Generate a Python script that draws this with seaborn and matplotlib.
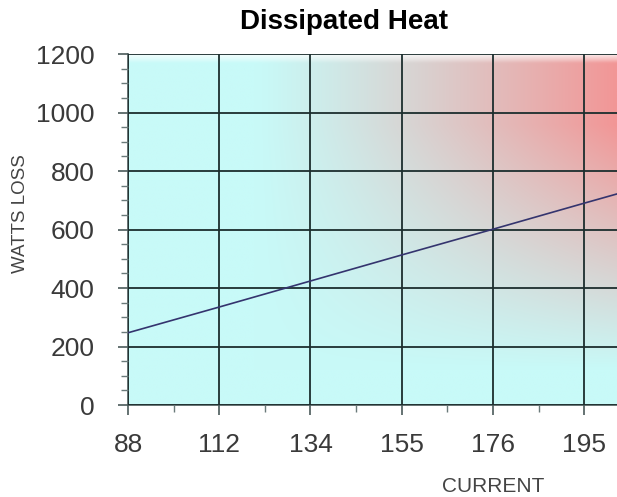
import numpy as np
import pandas as pd
import seaborn as sns
import matplotlib.pyplot as plt

# data
currents = ["88", "112", "134", "155", "176", "195", "214"]
watts_loss = [247, 335, 424, 513, 601, 690, 778]

df = pd.DataFrame({"current": currents, "watts": watts_loss})
df["pos"] = np.arange(len(df))

sns.set_style("white")
plt.rcParams["font.family"] = ["Liberation Sans", "DejaVu Sans"]

fig = plt.figure(figsize=(6.17, 4.97), dpi=100)
ax = fig.add_axes([0.2075, 0.1851, 0.7925, 0.7062])

x_max = 5.36
y_max = 1200

# background gradient: cyan, fading to red toward the top right
u = np.linspace(0, 1, 300)
v = np.linspace(0, 1, 300)
U, V = np.meshgrid(u, v)
fx = np.clip((U - 0.26) / 0.74, 0, 1) ** 1.15
fy = np.clip((V - 0.1) / 0.7, 0, 1)
t = fx * fy
cyan = np.array([200, 250, 248]) / 255
red = np.array([242, 150, 150]) / 255
img = cyan[None, None, :] * (1 - t[..., None]) + red[None, None, :] * t[..., None]
# soft white fade at the very top
fade = np.clip((V - 0.975) / 0.025, 0, 1)[..., None]
img = img * (1 - fade * 0.8) + fade * 0.8
ax.imshow(img, extent=[0, x_max, 0, y_max], origin="lower", aspect="auto", zorder=0)

sns.lineplot(data=df, x="pos", y="watts", ax=ax, color="#34346e", linewidth=1.2, zorder=3)

ax.set_xticks(df["pos"])
ax.set_xticklabels(df["current"])
ax.set_xticks(df["pos"][:-1] + 0.5, minor=True)
ax.set_yticks(np.arange(0, 1201, 200))
ax.set_yticks(np.arange(0, 1201, 50), minor=True)
ax.set_xlim(0, x_max)
ax.set_ylim(0, y_max)

ax.grid(True, which="major", color="#1c2e2e", linewidth=1.3)
ax.set_axisbelow(False)
for gl in ax.get_xgridlines() + ax.get_ygridlines():
    gl.set_zorder(2)

for side in ["top", "right"]:
    ax.spines[side].set_visible(False)
for side in ["left", "bottom"]:
    ax.spines[side].set_color("#4a5a5a")
    ax.spines[side].set_linewidth(1.2)

ax.tick_params(axis="both", which="major", direction="out", length=7, width=1.2,
               color="#4a5a5a", labelsize=19, labelcolor="#3a3a3a", pad=13)
ax.tick_params(axis="both", which="minor", direction="out", length=5, width=1.0,
               color="#6a7a7a")
ax.tick_params(axis="y", which="major", pad=17)
ax.tick_params(left=True, bottom=True, which="both")

ax.set_xlabel("")
ax.set_ylabel("")
fig.text(21 / 617, 1 - 214 / 497, "WATTS LOSS", rotation=90, ha="center", va="center",
         fontsize=13.5, color="#444444")
fig.text(493 / 617, 1 - 486 / 497, "CURRENT", ha="center", va="center",
         fontsize=15, color="#444444")
fig.text(344 / 617, 1 - 22 / 497, "Dissipated Heat", ha="center", va="center",
         fontsize=20, fontweight="bold", color="black")

fig.savefig("out.png", dpi=100)
